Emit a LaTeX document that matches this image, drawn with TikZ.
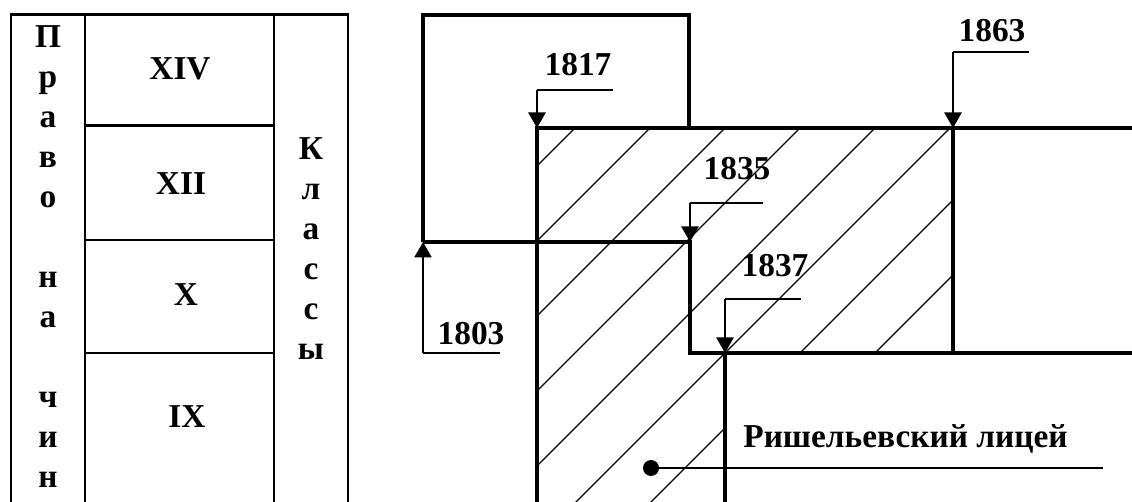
\documentclass[tikz,border=0pt]{standalone}
\usepackage{fontspec}
\setmainfont{Liberation Serif}
\usetikzlibrary{arrows.meta}

\begin{document}
\begin{tikzpicture}[
    x=0.02cm,y=-0.02cm,
    tb/.style={line width=1.7pt,line join=miter},
    wl/.style={line width=2pt,line join=miter},
    ld/.style={line width=.85pt},
    ht/.style={line width=.75pt},
    ar/.style={-{Triangle[length=3.1mm,width=3.4mm]},line width=1.4pt},
    tx/.style={font=\bfseries\fontsize{19}{21}\selectfont,inner sep=0pt,anchor=base}
  ]
    \useasboundingbox (0,0) rectangle (1132,502);
    % table of ranks
    \draw[tb] (11,502) -- (11,15) -- (348,15) -- (348,502);
    \draw[tb] (85,15) -- (85,502) (274,15) -- (274,502);
    \foreach \y in {126,240,353} {\draw[tb] (85,\y) -- (274,\y);}
    \foreach \y/\c [count=\i] in {48/П,88/р,128/а,168/в,208/о,288/н,328/а,408/ч,448/и,488/н} {\node[tx] (pc\i) at (48,\y) {\c};}
    \foreach \y/\c [count=\i] in {160/К,200/л,240/а,280/с,320/с,360/ы} {\node[tx] (kl\i) at (311,\y) {\c};}
    \node[tx] (xiv) at (180,80) {XIV}; \node[tx] (xii) at (181,195) {XII};
    \node[tx] (x) at (186,306) {X}; \node[tx] (ix) at (187,428) {IX};
    % hatched area
    \begin{scope}
      \clip (537,128) -- (953,128) -- (953,353) -- (725,353) -- (725,502) -- (537,502) -- cycle;
      \foreach \c in {703,778,...,1228} {\draw[ht] ({\c-520},520) -- ({\c-100},100);}
    \end{scope}
    % walls
    \draw[wl] (423,242) -- (423,15) -- (689,15) -- (689,128);
    \draw[wl] (423,242) -- (690,242) -- (690,353) -- (1132,353);
    \draw[wl] (537,502) -- (537,128) -- (1132,128);
    \draw[wl] (953,128) -- (953,353);
    \draw[wl] (725,353) -- (725,502);
    % years
    \foreach \n/\x/\ya/\yb/\xe in {1817/537/90/128/613,1835/690/203/242/763,1837/725/299/353/801,1863/953/52/128/1029,1803/423/353/242/500} {
      \coordinate (s\n) at (\x,\ya); \coordinate (e\n) at (\x,\yb); \coordinate (l\n) at (\xe,\ya);
      \draw[ld] (s\n) -- (l\n); \draw[ar] (s\n) -- (e\n);}
    \node[tx] (y1817) at (578,76) {1817}; \node[tx] (y1835) at (737,180) {1835};
    \node[tx] (y1837) at (775,277) {1837}; \node[tx] (y1863) at (992,42) {1863};
    \node[tx] (y1803) at (471,345) {1803};
    % lyceum
    \node[circle,fill,inner sep=0pt,minimum size=.32cm] (dot) at (651,468) {};
    \coordinate (lend) at (1103,468);
    \draw[line width=1.5pt] (dot.center) -- (lend);
    \node[tx,anchor=base west] (lyc) at (743,448) {Ришельевский лицей};
\end{tikzpicture}
\end{document}
